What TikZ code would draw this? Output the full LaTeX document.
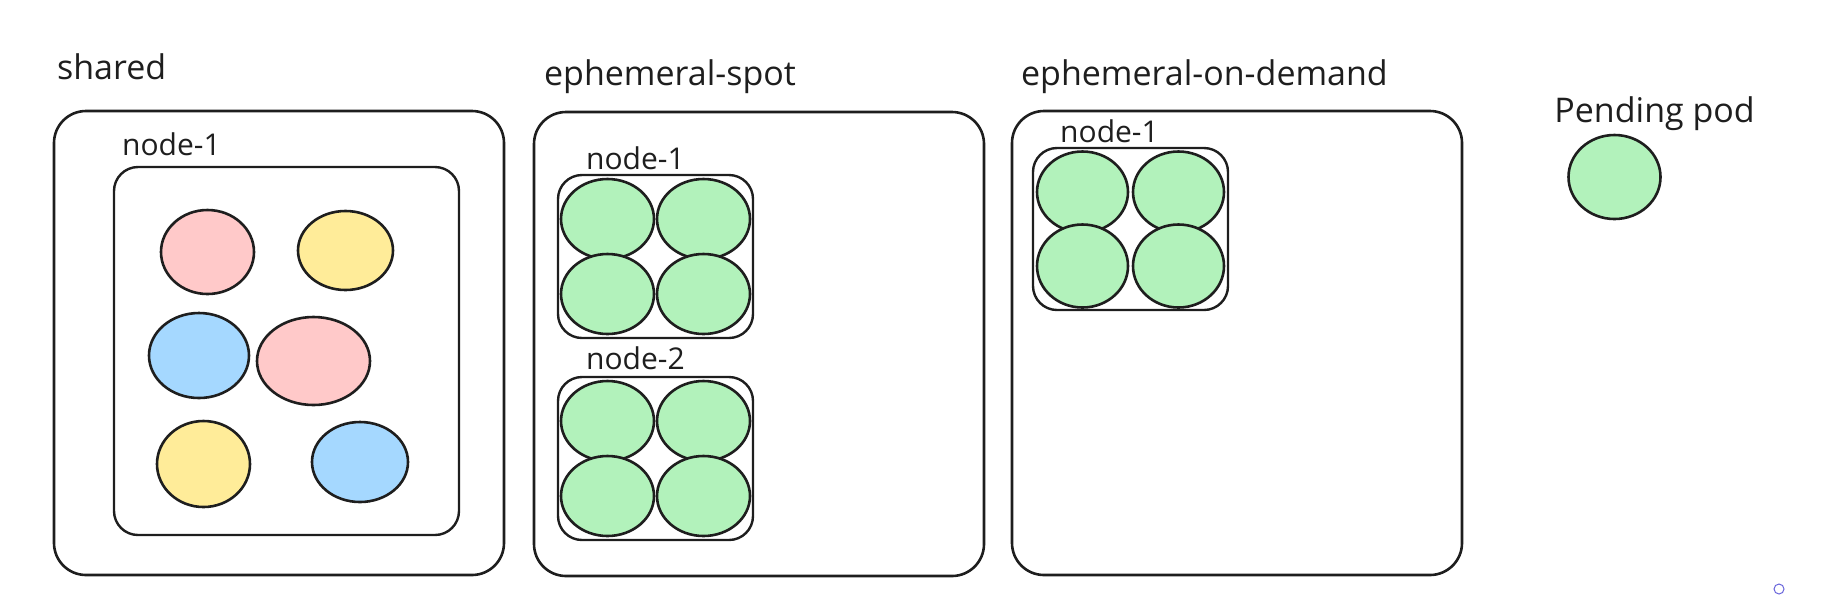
\documentclass[tikz,border=0pt]{standalone}
\usepackage{fontspec}
\setmainfont{Open Sans}
\usetikzlibrary{shapes.geometric,positioning}
\definecolor{ink}{HTML}{1E1E1E}
\definecolor{podred}{HTML}{FFC9C9}
\definecolor{podyellow}{HTML}{FFEC99}
\definecolor{podblue}{HTML}{A5D8FF}
\definecolor{podgreen}{HTML}{B2F2BB}
\definecolor{marker}{HTML}{6965DB}
\tikzstyle{pool} = [draw=ink, line width=1.3pt, rounded corners=16pt, minimum width=225pt, minimum height=232pt, inner sep=0pt]
\tikzstyle{knode} = [draw=ink, line width=1.2pt, rounded corners=12pt, minimum width=97.5pt, minimum height=81.5pt, inner sep=0pt]
\tikzstyle{pod} = [draw=ink, line width=1.3pt, ellipse, inner sep=0pt, minimum width=46.5pt, minimum height=40pt]
\tikzstyle{title} = [font=\fontsize{17}{20}\selectfont, text=ink, anchor=base west, inner sep=0pt]
\tikzstyle{subtitle} = [font=\fontsize{15}{18}\selectfont, text=ink, anchor=base west, inner sep=0pt]
\newcommand{\kpool}[1]{node (#1) [pool] {}}
\newcommand{\knode}[2]{node (#1) [knode, #2] {}}
\newcommand{\kpod}[3]{node (#1) [pod, fill=#2, #3] {}}

\begin{document}
\begin{tikzpicture}[x=0.5pt,y=-0.5pt]
\useasboundingbox (0,0) rectangle (1836,601);
% node pools
\path (279,343) \kpool{shared};
\path (759,344) \kpool{spot};
\path (1237,343) \kpool{ondemand};
\path (shared.north west)+(4,-30) node (tshared) [title] {shared};
\path (spot.north west)+(11,-25) node (tspot) [title] {ephemeral-spot};
\path (ondemand.north west)+(10,-24) node (tondemand) [title] {ephemeral-on-demand};

% shared pool
\path (286.5,351) \knode{sh1}{minimum width=172.5pt, minimum height=184pt};
\path (sh1.north west)+(9,-10) node (tsh1) [subtitle] {node-1};
\path (207.5,252) \kpod{sh1a}{podred}{minimum width=46.5pt, minimum height=42pt};
\path (345.5,250.5) \kpod{sh1b}{podyellow}{minimum width=47.5pt, minimum height=39.5pt};
\path (199,355.5) \kpod{sh1c}{podblue}{minimum width=50pt, minimum height=42.5pt};
\path (313.5,361) \kpod{sh1d}{podred}{minimum width=56.5pt, minimum height=44pt};
\path (203.5,464) \kpod{sh1e}{podyellow}{minimum width=46.5pt, minimum height=43pt};
\path (360,462) \kpod{sh1f}{podblue}{minimum width=48pt, minimum height=40pt};

% spot pool
\path (655.5,256.5) \knode{sp1}{};
\path (sp1.north west)+(29,-4) node (tsp1) [subtitle] {node-1};
\path (sp1)+(-48,-37.5) \kpod{sp1a}{podgreen}{};
\path (sp1)+(48,-37.5) \kpod{sp1b}{podgreen}{};
\path (sp1)+(-48,37.5) \kpod{sp1c}{podgreen}{};
\path (sp1)+(48,37.5) \kpod{sp1d}{podgreen}{};
\path (655.5,458.5) \knode{sp2}{};
\path (sp2.north west)+(29,-6) node (tsp2) [subtitle] {node-2};
\path (sp2)+(-48,-37.5) \kpod{sp2a}{podgreen}{};
\path (sp2)+(48,-37.5) \kpod{sp2b}{podgreen}{};
\path (sp2)+(-48,37.5) \kpod{sp2c}{podgreen}{};
\path (sp2)+(48,37.5) \kpod{sp2d}{podgreen}{};

% on-demand pool
\path (1130.5,229) \knode{od1}{minimum height=81pt};
\path (od1.north west)+(28,-4) node (tod1) [subtitle] {node-1};
\path (od1)+(-48,-37) \kpod{od1a}{podgreen}{minimum width=45.5pt, minimum height=40.5pt};
\path (od1)+(48,-37) \kpod{od1b}{podgreen}{minimum width=45.5pt, minimum height=40.5pt};
\path (od1)+(-48,37) \kpod{od1c}{podgreen}{minimum width=45.5pt, minimum height=41.5pt};
\path (od1)+(48,37) \kpod{od1d}{podgreen}{minimum width=45.5pt, minimum height=41.5pt};

% pending pod
\path (1614.5,177) \kpod{pending}{podgreen}{minimum width=46pt, minimum height=42pt};
\path (pending.north)+(-60.5,-11) node (tpending) [title] {Pending pod};
\path (1779,589) node (cursor) [circle, draw=marker, line width=0.5pt, inner sep=0pt, minimum size=5pt] {};
\end{tikzpicture}
\end{document}
